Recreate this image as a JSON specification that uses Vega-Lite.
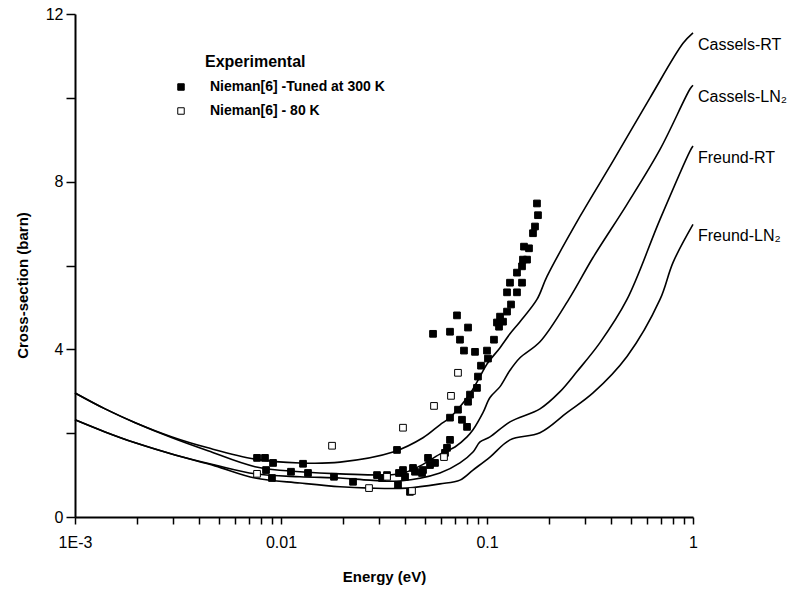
{
  "$schema": "https://vega.github.io/schema/vega-lite/v6.json",
  "width": 618,
  "height": 503,
  "autosize": {"type": "none"},
  "padding": {"left": 75, "top": 14, "right": 105, "bottom": 80},
  "background": "white",
  "config": {
    "view": {"stroke": null},
    "font": "Liberation Sans",
    "text": {"font": "Liberation Sans", "color": "black"}
  },
  "datasets": {
    "curves": [
      {"m": "Cassels-RT", "E": 0.001, "s": 2.96},
      {"m": "Cassels-RT", "E": 0.0014, "s": 2.58},
      {"m": "Cassels-RT", "E": 0.00196, "s": 2.25},
      {"m": "Cassels-RT", "E": 0.00296, "s": 1.91},
      {"m": "Cassels-RT", "E": 0.00442, "s": 1.65},
      {"m": "Cassels-RT", "E": 0.00748, "s": 1.38},
      {"m": "Cassels-RT", "E": 0.01237, "s": 1.29},
      {"m": "Cassels-RT", "E": 0.01934, "s": 1.31},
      {"m": "Cassels-RT", "E": 0.035, "s": 1.55},
      {"m": "Cassels-RT", "E": 0.0489, "s": 1.89},
      {"m": "Cassels-RT", "E": 0.0591, "s": 2.2},
      {"m": "Cassels-RT", "E": 0.0661, "s": 2.37},
      {"m": "Cassels-RT", "E": 0.0739, "s": 2.63},
      {"m": "Cassels-RT", "E": 0.0827, "s": 2.94},
      {"m": "Cassels-RT", "E": 0.0925, "s": 3.35},
      {"m": "Cassels-RT", "E": 0.1, "s": 3.65},
      {"m": "Cassels-RT", "E": 0.1157, "s": 4.04},
      {"m": "Cassels-RT", "E": 0.1293, "s": 4.37},
      {"m": "Cassels-RT", "E": 0.1446, "s": 4.66},
      {"m": "Cassels-RT", "E": 0.1748, "s": 5.19},
      {"m": "Cassels-RT", "E": 0.1956, "s": 5.74},
      {"m": "Cassels-RT", "E": 0.2828, "s": 7.17},
      {"m": "Cassels-RT", "E": 0.4089, "s": 8.49},
      {"m": "Cassels-RT", "E": 0.6184, "s": 10.0},
      {"m": "Cassels-RT", "E": 0.8944, "s": 11.3},
      {"m": "Cassels-RT", "E": 1, "s": 11.55},
      {"m": "Cassels-LN₂", "E": 0.001, "s": 2.96},
      {"m": "Cassels-LN₂", "E": 0.0014, "s": 2.58},
      {"m": "Cassels-LN₂", "E": 0.00196, "s": 2.25},
      {"m": "Cassels-LN₂", "E": 0.00296, "s": 1.89},
      {"m": "Cassels-LN₂", "E": 0.00442, "s": 1.58},
      {"m": "Cassels-LN₂", "E": 0.00748, "s": 1.2},
      {"m": "Cassels-LN₂", "E": 0.01237, "s": 1.08},
      {"m": "Cassels-LN₂", "E": 0.01934, "s": 1.03},
      {"m": "Cassels-LN₂", "E": 0.0378, "s": 1.03},
      {"m": "Cassels-LN₂", "E": 0.0473, "s": 1.22},
      {"m": "Cassels-LN₂", "E": 0.0591, "s": 1.5},
      {"m": "Cassels-LN₂", "E": 0.0699, "s": 1.67},
      {"m": "Cassels-LN₂", "E": 0.08, "s": 1.91},
      {"m": "Cassels-LN₂", "E": 0.0855, "s": 2.08},
      {"m": "Cassels-LN₂", "E": 0.0956, "s": 2.49},
      {"m": "Cassels-LN₂", "E": 0.1034, "s": 2.85},
      {"m": "Cassels-LN₂", "E": 0.1157, "s": 3.11},
      {"m": "Cassels-LN₂", "E": 0.1293, "s": 3.5},
      {"m": "Cassels-LN₂", "E": 0.1446, "s": 3.8},
      {"m": "Cassels-LN₂", "E": 0.1808, "s": 4.18},
      {"m": "Cassels-LN₂", "E": 0.2529, "s": 5.24},
      {"m": "Cassels-LN₂", "E": 0.327, "s": 6.19},
      {"m": "Cassels-LN₂", "E": 0.4782, "s": 7.46},
      {"m": "Cassels-LN₂", "E": 0.6917, "s": 8.77},
      {"m": "Cassels-LN₂", "E": 0.967, "s": 10.21},
      {"m": "Cassels-LN₂", "E": 1, "s": 10.3},
      {"m": "Freund-RT", "E": 0.001, "s": 2.32},
      {"m": "Freund-RT", "E": 0.0014, "s": 2.03},
      {"m": "Freund-RT", "E": 0.00196, "s": 1.77},
      {"m": "Freund-RT", "E": 0.00306, "s": 1.48},
      {"m": "Freund-RT", "E": 0.00478, "s": 1.24},
      {"m": "Freund-RT", "E": 0.00748, "s": 1.03},
      {"m": "Freund-RT", "E": 0.01237, "s": 0.96},
      {"m": "Freund-RT", "E": 0.01934, "s": 0.93},
      {"m": "Freund-RT", "E": 0.027, "s": 0.88},
      {"m": "Freund-RT", "E": 0.0378, "s": 0.86},
      {"m": "Freund-RT", "E": 0.0591, "s": 1.05},
      {"m": "Freund-RT", "E": 0.0739, "s": 1.29},
      {"m": "Freund-RT", "E": 0.0855, "s": 1.55},
      {"m": "Freund-RT", "E": 0.0925, "s": 1.79},
      {"m": "Freund-RT", "E": 0.1034, "s": 1.91},
      {"m": "Freund-RT", "E": 0.1293, "s": 2.27},
      {"m": "Freund-RT", "E": 0.1808, "s": 2.58},
      {"m": "Freund-RT", "E": 0.2262, "s": 2.99},
      {"m": "Freund-RT", "E": 0.2735, "s": 3.47},
      {"m": "Freund-RT", "E": 0.3536, "s": 4.16},
      {"m": "Freund-RT", "E": 0.4782, "s": 5.19},
      {"m": "Freund-RT", "E": 0.6917, "s": 7.1},
      {"m": "Freund-RT", "E": 0.967, "s": 8.73},
      {"m": "Freund-RT", "E": 1, "s": 8.85},
      {"m": "Freund-LN₂", "E": 0.001, "s": 2.32},
      {"m": "Freund-LN₂", "E": 0.0014, "s": 2.03},
      {"m": "Freund-LN₂", "E": 0.00196, "s": 1.77},
      {"m": "Freund-LN₂", "E": 0.00306, "s": 1.48},
      {"m": "Freund-LN₂", "E": 0.00478, "s": 1.22},
      {"m": "Freund-LN₂", "E": 0.00748, "s": 0.93},
      {"m": "Freund-LN₂", "E": 0.01237, "s": 0.81},
      {"m": "Freund-LN₂", "E": 0.01934, "s": 0.72},
      {"m": "Freund-LN₂", "E": 0.027, "s": 0.69},
      {"m": "Freund-LN₂", "E": 0.0409, "s": 0.69},
      {"m": "Freund-LN₂", "E": 0.0591, "s": 0.79},
      {"m": "Freund-LN₂", "E": 0.0739, "s": 0.88},
      {"m": "Freund-LN₂", "E": 0.0855, "s": 1.12},
      {"m": "Freund-LN₂", "E": 0.1034, "s": 1.43},
      {"m": "Freund-LN₂", "E": 0.1293, "s": 1.84},
      {"m": "Freund-LN₂", "E": 0.1808, "s": 2.01},
      {"m": "Freund-LN₂", "E": 0.2445, "s": 2.49},
      {"m": "Freund-LN₂", "E": 0.327, "s": 2.96},
      {"m": "Freund-LN₂", "E": 0.4782, "s": 3.83},
      {"m": "Freund-LN₂", "E": 0.6917, "s": 5.19},
      {"m": "Freund-LN₂", "E": 0.7995, "s": 6.07},
      {"m": "Freund-LN₂", "E": 1, "s": 6.98}
    ],
    "points": [
      {"set": "Nieman[6] -Tuned at 300 K", "E": 0.00765, "s": 1.41},
      {"set": "Nieman[6] -Tuned at 300 K", "E": 0.00836, "s": 1.41},
      {"set": "Nieman[6] -Tuned at 300 K", "E": 0.00915, "s": 1.29},
      {"set": "Nieman[6] -Tuned at 300 K", "E": 0.00846, "s": 1.12},
      {"set": "Nieman[6] -Tuned at 300 K", "E": 0.00904, "s": 0.93},
      {"set": "Nieman[6] -Tuned at 300 K", "E": 0.01118, "s": 1.08},
      {"set": "Nieman[6] -Tuned at 300 K", "E": 0.01279, "s": 1.27},
      {"set": "Nieman[6] -Tuned at 300 K", "E": 0.01352, "s": 1.05},
      {"set": "Nieman[6] -Tuned at 300 K", "E": 0.01808, "s": 0.96},
      {"set": "Nieman[6] -Tuned at 300 K", "E": 0.02237, "s": 0.84},
      {"set": "Nieman[6] -Tuned at 300 K", "E": 0.02925, "s": 1.0},
      {"set": "Nieman[6] -Tuned at 300 K", "E": 0.03093, "s": 0.93},
      {"set": "Nieman[6] -Tuned at 300 K", "E": 0.03271, "s": 1.0},
      {"set": "Nieman[6] -Tuned at 300 K", "E": 0.03657, "s": 1.6},
      {"set": "Nieman[6] -Tuned at 300 K", "E": 0.03698, "s": 0.77},
      {"set": "Nieman[6] -Tuned at 300 K", "E": 0.0374, "s": 1.05},
      {"set": "Nieman[6] -Tuned at 300 K", "E": 0.0391, "s": 1.12},
      {"set": "Nieman[6] -Tuned at 300 K", "E": 0.04, "s": 0.96},
      {"set": "Nieman[6] -Tuned at 300 K", "E": 0.04229, "s": 0.6},
      {"set": "Nieman[6] -Tuned at 300 K", "E": 0.04373, "s": 1.17},
      {"set": "Nieman[6] -Tuned at 300 K", "E": 0.04472, "s": 1.08},
      {"set": "Nieman[6] -Tuned at 300 K", "E": 0.04837, "s": 1.05},
      {"set": "Nieman[6] -Tuned at 300 K", "E": 0.04891, "s": 1.12},
      {"set": "Nieman[6] -Tuned at 300 K", "E": 0.05172, "s": 1.41},
      {"set": "Nieman[6] -Tuned at 300 K", "E": 0.05289, "s": 1.24},
      {"set": "Nieman[6] -Tuned at 300 K", "E": 0.05593, "s": 1.29},
      {"set": "Nieman[6] -Tuned at 300 K", "E": 0.06253, "s": 1.53},
      {"set": "Nieman[6] -Tuned at 300 K", "E": 0.06394, "s": 1.65},
      {"set": "Nieman[6] -Tuned at 300 K", "E": 0.06613, "s": 1.84},
      {"set": "Nieman[6] -Tuned at 300 K", "E": 0.0547, "s": 4.37},
      {"set": "Nieman[6] -Tuned at 300 K", "E": 0.06613, "s": 4.42},
      {"set": "Nieman[6] -Tuned at 300 K", "E": 0.0715, "s": 4.81},
      {"set": "Nieman[6] -Tuned at 300 K", "E": 0.0809, "s": 4.52},
      {"set": "Nieman[6] -Tuned at 300 K", "E": 0.07393, "s": 4.23},
      {"set": "Nieman[6] -Tuned at 300 K", "E": 0.0773, "s": 3.97},
      {"set": "Nieman[6] -Tuned at 300 K", "E": 0.08745, "s": 3.94},
      {"set": "Nieman[6] -Tuned at 300 K", "E": 0.1, "s": 3.97},
      {"set": "Nieman[6] -Tuned at 300 K", "E": 0.1011, "s": 3.78},
      {"set": "Nieman[6] -Tuned at 300 K", "E": 0.0935, "s": 3.61},
      {"set": "Nieman[6] -Tuned at 300 K", "E": 0.0904, "s": 3.35},
      {"set": "Nieman[6] -Tuned at 300 K", "E": 0.0894, "s": 3.08},
      {"set": "Nieman[6] -Tuned at 300 K", "E": 0.0827, "s": 2.92},
      {"set": "Nieman[6] -Tuned at 300 K", "E": 0.0809, "s": 2.75},
      {"set": "Nieman[6] -Tuned at 300 K", "E": 0.0723, "s": 2.56},
      {"set": "Nieman[6] -Tuned at 300 K", "E": 0.06613, "s": 2.37},
      {"set": "Nieman[6] -Tuned at 300 K", "E": 0.0756, "s": 2.32},
      {"set": "Nieman[6] -Tuned at 300 K", "E": 0.08, "s": 2.15},
      {"set": "Nieman[6] -Tuned at 300 K", "E": 0.1081, "s": 4.23},
      {"set": "Nieman[6] -Tuned at 300 K", "E": 0.1118, "s": 4.64},
      {"set": "Nieman[6] -Tuned at 300 K", "E": 0.1157, "s": 4.78},
      {"set": "Nieman[6] -Tuned at 300 K", "E": 0.1196, "s": 4.66},
      {"set": "Nieman[6] -Tuned at 300 K", "E": 0.1144, "s": 4.54},
      {"set": "Nieman[6] -Tuned at 300 K", "E": 0.1251, "s": 4.9},
      {"set": "Nieman[6] -Tuned at 300 K", "E": 0.1308, "s": 5.07},
      {"set": "Nieman[6] -Tuned at 300 K", "E": 0.1251, "s": 5.36},
      {"set": "Nieman[6] -Tuned at 300 K", "E": 0.1398, "s": 5.36},
      {"set": "Nieman[6] -Tuned at 300 K", "E": 0.1293, "s": 5.59},
      {"set": "Nieman[6] -Tuned at 300 K", "E": 0.1479, "s": 5.59},
      {"set": "Nieman[6] -Tuned at 300 K", "E": 0.1398, "s": 5.83},
      {"set": "Nieman[6] -Tuned at 300 K", "E": 0.1479, "s": 5.98},
      {"set": "Nieman[6] -Tuned at 300 K", "E": 0.1495, "s": 6.14},
      {"set": "Nieman[6] -Tuned at 300 K", "E": 0.1564, "s": 6.14},
      {"set": "Nieman[6] -Tuned at 300 K", "E": 0.1512, "s": 6.45},
      {"set": "Nieman[6] -Tuned at 300 K", "E": 0.1599, "s": 6.41},
      {"set": "Nieman[6] -Tuned at 300 K", "E": 0.1672, "s": 6.77},
      {"set": "Nieman[6] -Tuned at 300 K", "E": 0.171, "s": 6.93},
      {"set": "Nieman[6] -Tuned at 300 K", "E": 0.1768, "s": 7.2},
      {"set": "Nieman[6] -Tuned at 300 K", "E": 0.1748, "s": 7.48},
      {"set": "Nieman[6] - 80 K", "E": 0.00765, "s": 1.03},
      {"set": "Nieman[6] - 80 K", "E": 0.01769, "s": 1.7},
      {"set": "Nieman[6] - 80 K", "E": 0.02675, "s": 0.69},
      {"set": "Nieman[6] - 80 K", "E": 0.03271, "s": 0.96},
      {"set": "Nieman[6] - 80 K", "E": 0.0391, "s": 2.13},
      {"set": "Nieman[6] - 80 K", "E": 0.05531, "s": 2.65},
      {"set": "Nieman[6] - 80 K", "E": 0.06687, "s": 2.89},
      {"set": "Nieman[6] - 80 K", "E": 0.0723, "s": 3.44},
      {"set": "Nieman[6] - 80 K", "E": 0.06184, "s": 1.43},
      {"set": "Nieman[6] - 80 K", "E": 0.04324, "s": 0.62}
    ]
  },
  "encoding": {
    "x": {
      "field": "E",
      "type": "quantitative",
      "scale": {"type": "log", "domain": [0.001, 1]},
      "axis": {
        "title": "Energy (eV)",
        "values": [0.001, 0.002, 0.003, 0.004, 0.005, 0.006, 0.007, 0.008, 0.009, 0.01, 0.02, 0.03, 0.04, 0.05, 0.06, 0.07, 0.08, 0.09, 0.1, 0.2, 0.3, 0.4, 0.5, 0.6, 0.7, 0.8, 0.9, 1],
        "labelExpr": "datum.value == 0.001 ? '1E-3' : datum.value == 0.01 ? '0.01' : datum.value == 0.1 ? '0.1' : datum.value == 1 ? '1' : ''",
        "grid": false,
        "tickSize": 7,
        "tickWidth": 1.5,
        "tickColor": "black",
        "domainColor": "black",
        "domainWidth": 2,
        "labelFontSize": 16,
        "labelColor": "black",
        "labelPadding": 10,
        "labelOverlap": false,
        "labelFlush": false,
        "labelBound": false,
        "titleFontSize": 15,
        "titleFontWeight": "bold",
        "titleColor": "black",
        "titlePadding": 19
      }
    },
    "y": {
      "field": "s",
      "type": "quantitative",
      "scale": {"domain": [0, 12]},
      "axis": {
        "title": "Cross-section (barn)",
        "values": [0, 2, 4, 6, 8, 10, 12],
        "labelExpr": "datum.value % 4 == 0 ? datum.label : ''",
        "grid": false,
        "tickSize": 9,
        "tickWidth": 1.5,
        "tickColor": "black",
        "domainColor": "black",
        "domainWidth": 2,
        "labelFontSize": 16,
        "labelColor": "black",
        "labelPadding": 3,
        "titleFontSize": 15,
        "titleFontWeight": "bold",
        "titleColor": "black",
        "titleX": -53,
        "titleY": 271,
        "titleBaseline": "middle"
      }
    }
  },
  "layer": [
    {
      "data": {"name": "curves"},
      "mark": {"type": "line", "color": "black", "strokeWidth": 1.6, "interpolate": "catmull-rom"},
      "encoding": {"detail": {"field": "m", "type": "nominal"}}
    },
    {
      "data": {"name": "curves"},
      "transform": [{"filter": "datum.E == 1"}],
      "mark": {"type": "text", "align": "left", "baseline": "middle", "dx": 5, "dy": 12, "fontSize": 16},
      "encoding": {"text": {"field": "m", "type": "nominal"}}
    },
    {
      "data": {"name": "points"},
      "mark": {"type": "square", "size": 45, "stroke": "black", "strokeWidth": 1, "opacity": 1},
      "encoding": {
        "fill": {
          "field": "set",
          "type": "nominal",
          "scale": {"domain": ["Nieman[6] -Tuned at 300 K", "Nieman[6] - 80 K"], "range": ["black", "white"]},
          "legend": {
            "orient": "none",
            "legendX": 130,
            "legendY": 40,
            "title": "Experimental",
            "titleFontSize": 16,
            "titleFontWeight": "bold",
            "titleColor": "black",
            "titlePadding": 10,
            "labelFontSize": 14,
            "labelFontWeight": "bold",
            "labelColor": "black",
            "labelLimit": 400,
            "labelOffset": 22,
            "symbolType": "square",
            "symbolSize": 42,
            "symbolStrokeColor": "black",
            "symbolStrokeWidth": 1,
            "symbolOffset": -31,
            "rowPadding": 10
          }
        }
      }
    }
  ]
}
